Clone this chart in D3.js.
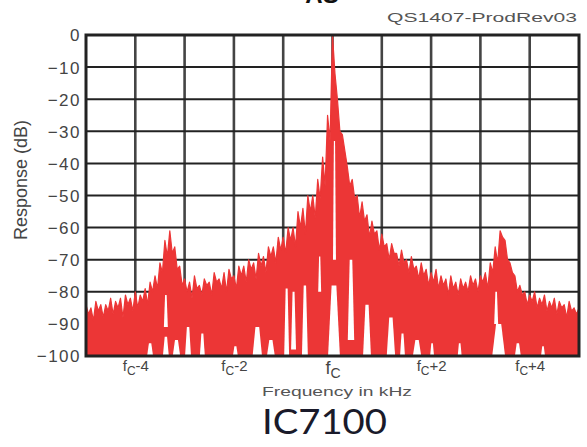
<!DOCTYPE html>
<html>
<head>
<meta charset="utf-8">
<script src="https://cdn.jsdelivr.net/npm/d3@7"></script>
<style>
  body { margin: 0; background: #fff; }
  svg { display: block; }
</style>
</head>
<body>
<div id="chart"></div>
<script>
// Frecuencias (kHz respecto a fc) y borde superior del espectro
const freqs = d3.range(-50, 51).map(i => i / 10);
// picos del borde superior en cada frecuencia
const peaks = [
  -84, -85, -83, -84, -84, -82, -83, -82, -81, -82,
  -80, -81, -79, -77, -75, -71, -64, -61, -66, -72,
  -76, -77, -75, -78, -76, -77, -74, -76, -74, -73,
  -75, -72, -72, -70, -71, -68, -69, -66, -66, -63,
  -63, -60, -60, -55, -54, -50, -50, -45, -38, -25,
  0, -20, -31, -41, -45, -50, -52, -56, -58, -61,
  -62, -65, -65, -68, -67, -70, -69, -72, -71, -73,
  -74, -73, -75, -76, -75, -77, -76, -77, -75, -76,
  -75, -74, -71, -66, -61, -64, -71, -75, -78, -80,
  -81, -80, -82, -81, -83, -82, -83, -84, -83, -85,
  -85
];
// valles del borde superior, a media distancia entre picos
const dips = [
  -87, -89, -86, -88, -86, -87, -85, -88, -84, -86,
  -85, -83, -84, -80, -79, -74, -69, -68, -73, -78,
  -80, -82, -79, -81, -78, -81, -77, -79, -80, -76,
  -79, -75, -77, -73, -76, -72, -74, -69, -71, -67,
  -68, -64, -66, -60, -62, -55, -57, -51, -47, -33,
  -12, -30, -36, -47, -51, -57, -58, -63, -62, -67,
  -66, -70, -68, -72, -71, -74, -73, -76, -75, -78,
  -77, -79, -78, -81, -79, -81, -79, -80, -78, -80,
  -77, -79, -74, -71, -63, -70, -74, -80, -81, -84,
  -83, -85, -84, -86, -85, -87, -85, -88, -86, -87
];
// huecos blancos dentro del relleno: [f inicio, f fin, dB arriba, dB abajo]
const gaps = [
  [-3.76, -3.64, -96, -100], [-3.42, -3.34, -81, -91], [-3.44, -3.32, -94, -100],
  [-3.24, -3.09, -95, -100], [-2.99, -2.87, -91, -100], [-2.69, -2.59, -93, -100],
  [-2.02, -1.92, -97, -100], [-1.62, -1.43, -91, -100], [-1.33, -1.17, -95, -100],
  [-0.98, -0.88, -79, -100], [-0.84, -0.74, -80, -98], [-0.62, -0.50, -78, -100],
  [-0.29, -0.23, -69, -80], [0.01, 0.07, -33, -70], [-0.09, 0.15, -78, -100],
  [0.31, 0.44, -70, -95], [0.62, 0.78, -84, -100], [1.10, 1.27, -88, -100],
  [1.37, 1.47, -93, -100], [1.63, 1.80, -95, -100], [1.98, 2.06, -96, -100],
  [2.54, 2.62, -96, -100], [3.28, 3.36, -80, -90], [3.24, 3.50, -90, -100],
  [3.70, 3.82, -96, -100], [4.23, 4.31, -97, -100]
];
const yTicks = [0, -10, -20, -30, -40, -50, -60, -70, -80, -90, -100];
const xTicks = [-4, -2, 0, 2, 4];
const xTickLabels = ["-4", "-2", "", "+2", "+4"];

const width = 587, height = 447;
const plotLeft = 86, plotRight = 579, plotTop = 35, plotBottom = 356;

const svg = d3.select("#chart").append("svg")
  .attr("width", width)
  .attr("height", height)
  .style("font-family", "Arial, 'Liberation Sans', sans-serif");

const x = d3.scaleLinear([-5, 5], [plotLeft, plotRight]);
const y = d3.scaleLinear([-100, 0], [plotBottom, plotTop]);

// Título cortado arriba y código de referencia
svg.append("text")
  .attr("x", 322).attr("y", 3)
  .attr("text-anchor", "middle")
  .attr("font-size", 24).attr("font-weight", "bold")
  .attr("fill", "#111")
  .text("AS");

svg.append("text")
  .attr("x", 387).attr("y", 22)
  .attr("font-size", 13)
  .attr("fill", "#555")
  .attr("textLength", 190)
  .attr("lengthAdjust", "spacingAndGlyphs")
  .text("QS1407-ProdRev03");

// Rejilla
const grid = svg.append("g");
grid.selectAll("line.v")
  .data(d3.range(-4, 5))
  .join("line")
  .attr("class", "v")
  .attr("x1", d => x(d)).attr("x2", d => x(d))
  .attr("y1", plotTop).attr("y2", plotBottom)
  .attr("stroke", "#444")
  .attr("stroke-width", 2.6);
grid.selectAll("line.h")
  .data(d3.range(-90, 0, 10))
  .join("line")
  .attr("class", "h")
  .attr("x1", plotLeft).attr("x2", plotRight)
  .attr("y1", d => y(d)).attr("y2", d => y(d))
  .attr("stroke", "#222")
  .attr("stroke-width", 2);

// Borde superior del espectro: picos y valles alternados
const edge = [];
freqs.forEach((f, i) => {
  edge.push([f, peaks[i]]);
  if (i < dips.length) edge.push([f + 0.05, dips[i]]);
});

const area = d3.area()
  .x(d => x(d[0]))
  .y0(y(-100))
  .y1(d => y(d[1]));

const red = "#ec3636";
svg.append("path")
  .datum(edge)
  .attr("fill", red)
  .attr("stroke", red)
  .attr("stroke-width", 1.2)
  .attr("stroke-linejoin", "round")
  .attr("d", area);

// Huecos blancos entre las líneas del ruido (más estrechos arriba)
svg.append("g")
  .selectAll("path")
  .data(gaps)
  .join("path")
  .attr("fill", "#fff")
  .attr("d", d => {
    const x0 = x(d[0]), x1 = x(d[1]);
    const w = x1 - x0;
    const yt = y(d[2]), yb = y(d[3]);
    return `M${x0},${yb}L${x0 + w * 0.3},${yt}L${x1 - w * 0.3},${yt}L${x1},${yb}Z`;
  });

// Marco
svg.append("rect")
  .attr("x", plotLeft).attr("y", plotTop)
  .attr("width", plotRight - plotLeft).attr("height", plotBottom - plotTop)
  .attr("fill", "none")
  .attr("stroke", "#222")
  .attr("stroke-width", 3);

// Eje Y
const yAxis = svg.append("g")
  .attr("transform", `translate(${plotLeft - 5},0)`)
  .call(d3.axisLeft(y).tickValues(yTicks).tickSize(0).tickPadding(0)
    .tickFormat(d => d === 0 ? "0" : "\u2212" + Math.abs(d)));
yAxis.select(".domain").remove();
yAxis.selectAll("text")
  .attr("font-size", 17)
  .attr("letter-spacing", 1.5)
  .attr("font-family", "Arial, 'Liberation Sans', sans-serif")
  .attr("fill", "#444")
  .attr("dy", "0.35em");

svg.append("text")
  .attr("transform", "translate(27,180) rotate(-90)")
  .attr("text-anchor", "middle")
  .attr("font-size", 18)
  .attr("fill", "#444")
  .text("Response (dB)");

// Eje X con subíndices
const xAxis = svg.append("g")
  .attr("transform", `translate(0,${plotBottom + 15})`)
  .call(d3.axisBottom(x).tickValues(xTicks).tickSize(0).tickPadding(0).tickFormat(""));
xAxis.select(".domain").remove();
xAxis.selectAll(".tick").each(function (d, i) {
  const t = d3.select(this).append("text")
    .attr("text-anchor", "middle")
    .attr("fill", "#444")
    .attr("font-size", d === 0 ? 18 : 15)
    .attr("y", d === 0 ? 3 : 0);
  t.append("tspan").text("f");
  t.append("tspan").attr("font-size", d === 0 ? 14 : 12).attr("dy", 4).text("C");
  t.append("tspan").attr("dy", -4).text(xTickLabels[i]);
});

svg.append("text")
  .attr("x", 262).attr("y", 396)
  .attr("font-size", 13)
  .attr("fill", "#555")
  .attr("textLength", 150)
  .attr("lengthAdjust", "spacingAndGlyphs")
  .text("Frequency in kHz");

svg.append("text")
  .attr("x", 262).attr("y", 434)
  .attr("font-size", 35)
  .attr("font-family", "Lato, 'Open Sans', sans-serif")
  .attr("fill", "#1a1a2a")
  .attr("textLength", 125)
  .attr("lengthAdjust", "spacingAndGlyphs")
  .text("IC7100");
</script>
</body>
</html>
